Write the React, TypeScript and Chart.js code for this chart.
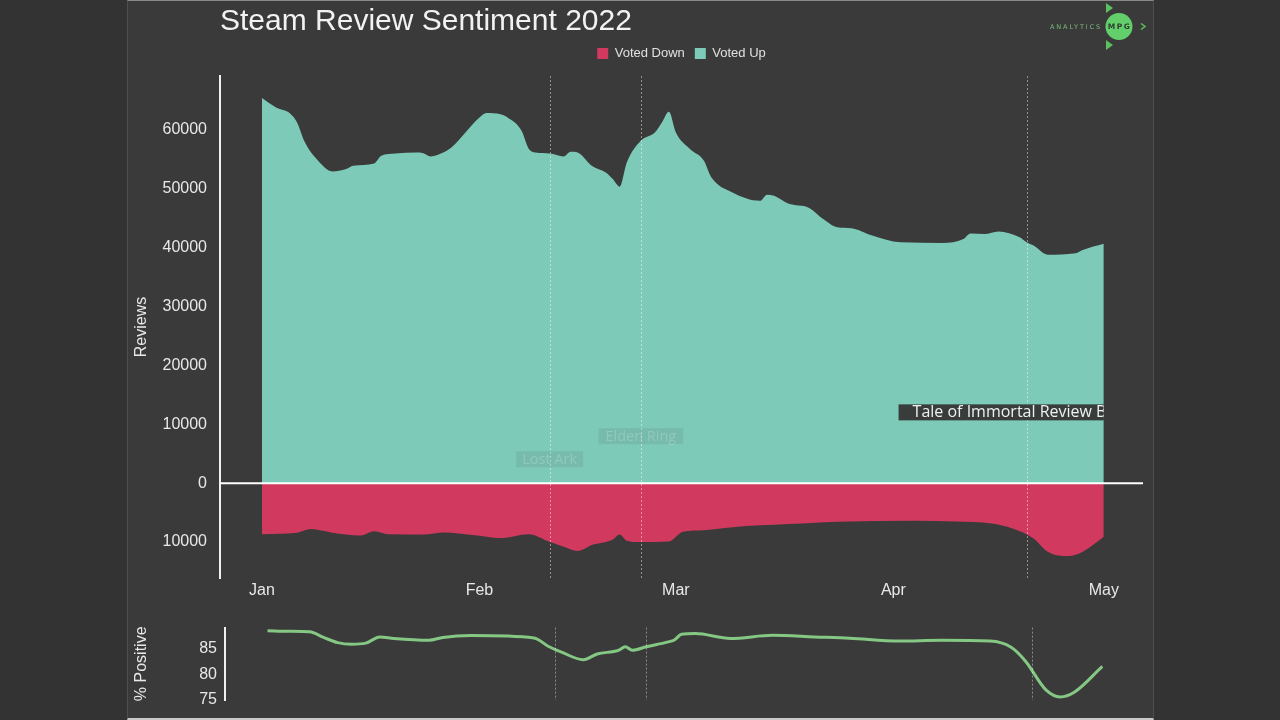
import React, { useEffect, useRef } from 'react';
import { Chart, registerables } from 'chart.js';

Chart.register(...registerables);

// ---- data ----
const monthDays = [0, 31, 59, 90, 120];
const monthLabels = ['Jan', 'Feb', 'Mar', 'Apr', 'May'];
const reviewTicks = [-10000, 0, 10000, 20000, 30000, 40000, 50000, 60000];
const percentTicks = [75, 80, 85];

// day of year (0 = Jan 1) and reviews voted up
const upDays = [0, 2, 4, 5, 6, 8, 10, 12, 13, 16, 17, 19, 22, 23, 24, 25, 27, 29, 31, 32, 34, 35, 37, 38, 39, 41, 43, 44, 45, 47, 49, 50, 51, 52, 54, 56, 57, 58, 59, 61, 63, 64, 67, 71, 72, 73, 75, 78, 80, 82, 84, 87, 91, 97, 100, 101, 103, 105, 108, 109, 110, 112, 116, 117, 120];
const upValues = [65400, 63800, 62800, 61250, 58150, 54750, 52950, 53350, 53900, 54300, 55600, 56000, 56150, 56050, 55500, 55750, 57000, 59550, 62100, 62850, 62650, 62100, 59850, 56850, 56150, 56000, 55500, 56300, 56150, 53900, 52750, 51650, 50350, 54450, 58150, 59550, 61250, 63100, 59550, 56750, 54750, 52050, 49400, 47950, 49000, 48800, 47500, 46750, 44850, 43450, 43300, 42050, 40900, 40800, 41450, 42400, 42300, 42750, 41750, 40900, 40350, 38800, 39050, 39600, 40650];

// reviews voted down
const downDays = [0, 5, 7, 10, 14, 16, 18, 23, 26, 30, 34, 38, 41, 43, 45, 47, 50, 51, 52, 54, 58, 60, 63, 69, 77, 82, 93, 99, 104, 107, 110, 112, 115, 117, 120];
const downValues = [8650, 8400, 7800, 8400, 8870, 8140, 8650, 8700, 8360, 8810, 9320, 8650, 9950, 10800, 11530, 10500, 9550, 8700, 9780, 10000, 9890, 8250, 7970, 7290, 6840, 6560, 6390, 6500, 6840, 7680, 9380, 11640, 12370, 11640, 9100];

// % positive
const pctDays = [0, 3, 6, 8, 10, 12, 14, 16, 18, 23, 25, 29, 38, 40, 42, 45, 47, 50, 51, 52, 54, 57, 58, 59, 61, 66, 72, 78, 83, 90, 96, 103, 106, 108, 111, 113, 115, 119];
const pctValues = [88.4, 88.3, 88.2, 87.1, 86.1, 85.8, 86.0, 87.2, 86.9, 86.55, 87.1, 87.45, 87.0, 85.4, 84.2, 82.8, 83.9, 84.6, 85.3, 84.6, 85.3, 86.2, 86.6, 87.7, 87.85, 86.9, 87.5, 87.2, 86.95, 86.4, 86.55, 86.4, 85.2, 82.6, 76.9, 75.6, 76.5, 81.5];

// events
const eventDays = [41, 54, 109];
const eventLabels = ['Lost Ark', 'Elden Ring', 'Tale of Immortal Review Bomb'];

// ---- styles ----
const TEAL = '#7ecab8';
const RED = '#d13a5e';
const GREEN = '#84c884';
const TEXT = '#e8e8e8';
const FONT = '"Liberation Sans", Arial, sans-serif';

// annotation placement (y anchor in axis units) and look
const labelLevels = [4070, 7970, 12030];
const labelPad = [6, 7, 14];
const labelFont = ['14.5px "Open Sans"', '14.5px "Open Sans"', '16px "Open Sans"'];
const labelBox = ['rgba(40,40,40,0.09)', 'rgba(40,40,40,0.09)', 'rgba(51,51,51,0.93)'];
const labelText = ['rgba(255,255,255,0.2)', 'rgba(255,255,255,0.2)', '#f0f0f0'];

const mainOverlay = {
  id: 'mainOverlay',
  afterDatasetsDraw(chart: any) {
    const { ctx, chartArea, scales } = chart;
    const xs = scales.x;
    const ys = scales.y;
    ctx.save();
    // zero line
    const y0 = ys.getPixelForValue(0);
    ctx.strokeStyle = '#ffffff';
    ctx.lineWidth = 2;
    ctx.beginPath();
    ctx.moveTo(chartArea.left, y0);
    ctx.lineTo(chartArea.right, y0);
    ctx.stroke();
    // event lines
    ctx.setLineDash([2, 2]);
    ctx.lineWidth = 1;
    ctx.strokeStyle = 'rgba(255,255,255,0.45)';
    eventDays.forEach((d) => {
      const x = Math.round(xs.getPixelForValue(d)) + 0.5;
      ctx.beginPath();
      ctx.moveTo(x, chartArea.top);
      ctx.lineTo(x, chartArea.bottom);
      ctx.stroke();
    });
    ctx.setLineDash([]);
    // labels, clipped to the data extent
    const lastX = xs.getPixelForValue(upDays[upDays.length - 1]);
    ctx.beginPath();
    ctx.rect(chartArea.left, chartArea.top, lastX - chartArea.left, chartArea.bottom - chartArea.top);
    ctx.clip();
    ctx.textBaseline = 'middle';
    ctx.textAlign = 'center';
    eventDays.forEach((d, i) => {
      ctx.font = labelFont[i];
      const x = xs.getPixelForValue(d);
      const y = ys.getPixelForValue(labelLevels[i]);
      const w = ctx.measureText(eventLabels[i]).width + 2 * labelPad[i];
      ctx.fillStyle = labelBox[i];
      ctx.fillRect(x - w / 2, y - 8, w, 16);
      ctx.fillStyle = labelText[i];
      ctx.fillText(eventLabels[i], x, y + 0.5);
    });
    ctx.restore();
  },
};

const pctOverlay = {
  id: 'pctOverlay',
  afterDatasetsDraw(chart: any) {
    const { ctx, chartArea, scales } = chart;
    ctx.save();
    ctx.setLineDash([2, 2]);
    ctx.lineWidth = 1;
    ctx.strokeStyle = 'rgba(255,255,255,0.4)';
    eventDays.forEach((d) => {
      const x = Math.round(scales.x.getPixelForValue(d)) + 0.5;
      ctx.beginPath();
      ctx.moveTo(x, chartArea.top);
      ctx.lineTo(x, chartArea.bottom);
      ctx.stroke();
    });
    ctx.restore();
  },
};

export default function App() {
  const topRef = useRef<HTMLCanvasElement>(null);
  const botRef = useRef<HTMLCanvasElement>(null);

  useEffect(() => {
    Chart.defaults.font.family = FONT;
    const upData = upDays.map((d, i) => ({ x: d, y: upValues[i] }));
    const downData = downDays.map((d, i) => ({ x: d, y: -downValues[i] }));
    const pctData = pctDays.map((d, i) => ({ x: d, y: pctValues[i] }));

    const top = new Chart(topRef.current as HTMLCanvasElement, {
      type: 'line',
      data: {
        datasets: [
          {
            label: 'Voted Down',
            data: downData,
            fill: 'origin',
            backgroundColor: RED,
            borderColor: RED,
            borderWidth: 0,
            pointRadius: 0,
            cubicInterpolationMode: 'monotone',
          },
          {
            label: 'Voted Up',
            data: upData,
            fill: 'origin',
            backgroundColor: TEAL,
            borderColor: TEAL,
            borderWidth: 0,
            pointRadius: 0,
            cubicInterpolationMode: 'monotone',
          },
        ],
      },
      options: {
        responsive: false,
        animation: false,
        events: [],
        layout: { padding: { left: 130, right: 137, top: 0, bottom: 7 } },
        plugins: {
          tooltip: { enabled: false },
          title: {
            display: true,
            text: 'Steam Review Sentiment 2022',
            align: 'start',
            fullSize: false,
            color: '#f2f2f2',
            font: { size: 30, weight: 'normal', lineHeight: 1, family: FONT },
            padding: { top: 7, bottom: 0 },
          },
          legend: {
            display: true,
            position: 'top',
            fullSize: false,
            labels: {
              color: '#e0e0e0',
              font: { size: 13, family: FONT },
              boxWidth: 11,
              boxHeight: 11,
              padding: 10,
            },
          },
        },
        scales: {
          x: {
            type: 'linear',
            min: -5.99,
            max: 125.59,
            afterBuildTicks: (s: any) => {
              s.ticks = monthDays.map((v) => ({ value: v }));
            },
            afterFit: (s: any) => {
              s.height = 25;
            },
            grid: { display: false, drawTicks: false },
            border: { display: false },
            ticks: {
              color: TEXT,
              font: { size: 16 },
              padding: 3,
              autoSkip: false,
              maxRotation: 0,
              callback: (_v: any, i: number) => monthLabels[i],
            },
          },
          gap: {
            type: 'linear',
            position: 'top',
            axis: 'x',
            display: true,
            afterFit: (s: any) => {
              s.height = 6;
            },
            grid: { display: false, drawTicks: false },
            border: { display: false },
            ticks: { display: false },
          },
          y: {
            type: 'linear',
            min: -16100,
            max: 69150,
            afterBuildTicks: (s: any) => {
              s.ticks = reviewTicks.map((v) => ({ value: v }));
            },
            afterFit: (s: any) => {
              s.width = 90;
            },
            grid: { display: false, drawTicks: false },
            border: { display: true, color: '#f0f0f0', width: 2 },
            ticks: {
              color: TEXT,
              font: { size: 16 },
              padding: 13,
              autoSkip: false,
              callback: (v: any) => String(Math.abs(Number(v))),
            },
            title: {
              display: true,
              text: 'Reviews',
              color: TEXT,
              font: { size: 16 },
              padding: { top: 2, bottom: 0 },
            },
          },
        },
      } as any,
      plugins: [mainOverlay],
    });

    const bot = new Chart(botRef.current as HTMLCanvasElement, {
      type: 'line',
      data: {
        datasets: [
          {
            label: '% Positive',
            data: pctData,
            borderColor: GREEN,
            backgroundColor: GREEN,
            borderWidth: 3,
            pointRadius: 0,
            fill: false,
            cubicInterpolationMode: 'monotone',
          },
        ],
      },
      options: {
        responsive: false,
        animation: false,
        events: [],
        layout: { padding: { left: 130, right: 137, top: 17, bottom: 20 } },
        plugins: {
          tooltip: { enabled: false },
          legend: { display: false },
          title: { display: false },
        },
        scales: {
          x: { type: 'linear', display: false, min: -6.06, max: 124.8 },
          y: {
            type: 'linear',
            min: 75,
            max: 89,
            afterBuildTicks: (s: any) => {
              s.ticks = percentTicks.map((v) => ({ value: v }));
            },
            afterFit: (s: any) => {
              s.width = 95;
            },
            grid: { display: false, drawTicks: false },
            border: { display: true, color: '#f0f0f0', width: 2 },
            ticks: { color: TEXT, font: { size: 16 }, padding: 8, autoSkip: false },
            title: {
              display: true,
              text: '% Positive',
              color: TEXT,
              font: { size: 16 },
              padding: { top: 2, bottom: 0 },
            },
          },
        },
      } as any,
      plugins: [pctOverlay],
    });

    return () => {
      top.destroy();
      bot.destroy();
    };
  }, []);

  return (
    <div
      style={{
        position: 'fixed',
        left: 0,
        top: 0,
        width: 1280,
        height: 720,
        background: '#333333',
        overflow: 'hidden',
      }}
    >
      <div
        style={{
          position: 'absolute',
          left: 127,
          top: 0,
          width: 1027,
          height: 720,
          background: '#3a3a3a',
          boxSizing: 'border-box',
          borderTop: '1px solid #8a8a8a',
          borderBottom: '2px solid #c8c8c8',
          borderLeft: '1px solid #4e4e4e',
          borderRight: '1px solid #4e4e4e',
        }}
      />
      <canvas ref={topRef} width={1280} height={610} style={{ position: 'absolute', left: 0, top: 0 }} />
      <canvas ref={botRef} width={1280} height={110} style={{ position: 'absolute', left: 0, top: 610 }} />
      <svg width={120} height={56} viewBox="0 0 120 56" style={{ position: 'absolute', left: 1040, top: 0 }}>
        <text x={10} y={29} fontSize={6.5} letterSpacing={1.9} fill="#79b879" fontFamily="DejaVu Sans">
          ANALYTICS
        </text>
        <circle cx={79} cy={26.5} r={13.5} fill="#62cf6b" />
        <text x={79.5} y={29.3} textAnchor="middle" fontSize={7.5} fontWeight="bold" letterSpacing={1.5} fill="#2f3f30" fontFamily="DejaVu Sans">
          MPG
        </text>
        <polygon points="66,3 73,8 66,13" fill="#5cc060" />
        <polygon points="66,40 73,45 66,50" fill="#5cc060" />
        <polyline points="101,23.5 105,26.5 101,29.5" stroke="#5cc060" strokeWidth={1.5} fill="none" />
      </svg>
    </div>
  );
}
